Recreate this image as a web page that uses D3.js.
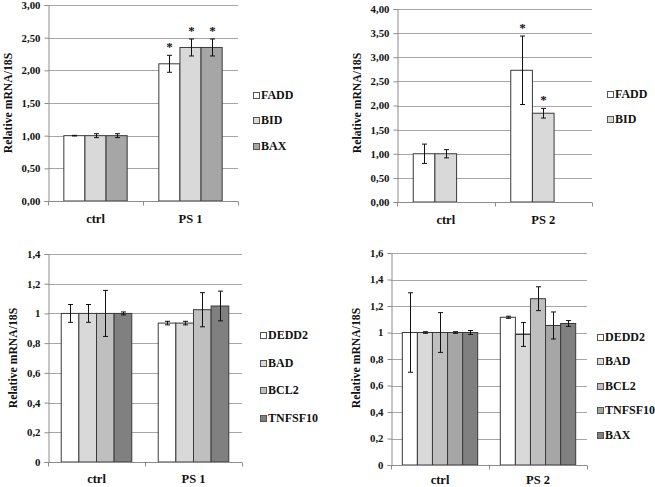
<!DOCTYPE html>
<html>
<head>
<meta charset="utf-8">
<script src="https://cdn.jsdelivr.net/npm/d3@7"></script>
<style>
  html, body { margin: 0; padding: 0; background: #fff; }
  svg { display: block; }
</style>
</head>
<body>
<svg id="chart" width="655" height="487"></svg>
<script>
// ---------- DATA ----------
// Panel 1 (top-left)
const p1Categories = ["ctrl", "PS 1"];
const p1Series = ["FADD", "BID", "BAX"];
const p1Values = [[1.00, 1.00, 1.00], [2.10, 2.35, 2.35]];
const p1Errors = [[0.005, 0.03, 0.03], [0.13, 0.13, 0.13]];
const p1Stars = [[0, 0, 0], [1, 1, 1]];
const p1Ticks = [0, 0.5, 1, 1.5, 2, 2.5, 3];

// Panel 2 (top-right)
const p2Categories = ["ctrl", "PS 2"];
const p2Series = ["FADD", "BID"];
const p2Values = [[1.00, 1.00], [2.73, 1.84]];
const p2Errors = [[0.20, 0.085], [0.71, 0.10]];
const p2Stars = [[0, 0], [1, 1]];
const p2Ticks = [0, 0.5, 1, 1.5, 2, 2.5, 3, 3.5, 4];

// Panel 3 (bottom-left)
const p3Categories = ["ctrl", "PS 1"];
const p3Series = ["DEDD2", "BAD", "BCL2", "TNFSF10"];
const p3Values = [[1.00, 1.00, 1.00, 1.00], [0.935, 0.935, 1.025, 1.05]];
const p3Errors = [[0.06, 0.06, 0.155, 0.01], [0.012, 0.012, 0.115, 0.10]];
const p3Stars = [[0, 0, 0, 0], [0, 0, 0, 0]];
const p3Ticks = [0, 0.2, 0.4, 0.6, 0.8, 1, 1.2, 1.4];

// Panel 4 (bottom-right)
const p4Categories = ["ctrl", "PS 2"];
const p4Series = ["DEDD2", "BAD", "BCL2", "TNFSF10", "BAX"];
const p4Values = [[1.00, 1.00, 1.00, 1.00, 1.00], [1.115, 0.985, 1.255, 1.053, 1.068]];
const p4Errors = [[0.30, 0.006, 0.15, 0.006, 0.015], [0.008, 0.09, 0.09, 0.102, 0.022]];
const p4Stars = [[0, 0, 0, 0, 0], [0, 0, 0, 0, 0]];
const p4Ticks = [0, 0.2, 0.4, 0.6, 0.8, 1, 1.2, 1.4, 1.6];

const yTitle = "Relative mRNA/18S";

// ---------- LAYOUT / STYLE ----------
const FONT = "'Liberation Serif', 'Times New Roman', serif";
const fmt2 = v => d3.format(".2f")(v).replace(".", ",");
const fmtS = v => String(+v.toFixed(1)).replace(".", ",");

const panels = [
  { cats: p1Categories, series: p1Series, values: p1Values, errors: p1Errors, stars: p1Stars, ticks: p1Ticks,
    fmt: fmt2, x0: 48, x1: 238, yTop: 5, yBot: 201, slots: 3,
    colors: ["#ffffff", "#d9d9d9", "#a6a6a6"],
    titleX: 8, titleY: 103, legX: 253, legY: 95, legStep: 25.3, catY: 223 },
  { cats: p2Categories, series: p2Series, values: p2Values, errors: p2Errors, stars: p2Stars, ticks: p2Ticks,
    fmt: fmt2, x0: 397, x1: 592, yTop: 9, yBot: 202, slots: 3,
    colors: ["#ffffff", "#d9d9d9"],
    titleX: 357, titleY: 103, legX: 607, legY: 94, legStep: 25, catY: 224 },
  { cats: p3Categories, series: p3Series, values: p3Values, errors: p3Errors, stars: p3Stars, ticks: p3Ticks,
    fmt: fmtS, x0: 48, x1: 242, yTop: 254, yBot: 462, slots: 4,
    colors: ["#ffffff", "#d9d9d9", "#bfbfbf", "#808080"],
    titleX: 13, titleY: 358, legX: 260, legY: 335, legStep: 27.7, catY: 483 },
  { cats: p4Categories, series: p4Series, values: p4Values, errors: p4Errors, stars: p4Stars, ticks: p4Ticks,
    fmt: fmtS, x0: 391, x1: 587, yTop: 253, yBot: 465, slots: 5,
    colors: ["#ffffff", "#d9d9d9", "#bfbfbf", "#a6a6a6", "#808080"],
    titleX: 356, titleY: 358, legX: 597, legY: 336.5, legStep: 24.6, catY: 484 }
];

const svg = d3.select("#chart");
const gridColor = "#a6a6a6";
const axisColor = "#8c8c8c";
const barStroke = "#3a3a3a";

panels.forEach(p => {
  const g = svg.append("g");
  const yMax = d3.max(p.ticks);
  const y = d3.scaleLinear().domain([0, yMax]).range([p.yBot, p.yTop]);
  const x = d3.scaleBand().domain(p.cats).range([p.x0, p.x1]).padding(0);
  const slotNames = d3.range(p.slots).map(i => "s" + i);
  const xs = d3.scaleBand().domain(slotNames).range([0, x.bandwidth()])
               .paddingInner(0).paddingOuter(0.75);

  // gridlines
  g.append("g").selectAll("line").data(p.ticks.filter(t => t > 0)).join("line")
    .attr("x1", p.x0).attr("x2", p.x1)
    .attr("y1", d => Math.round(y(d)) + 0.5).attr("y2", d => Math.round(y(d)) + 0.5)
    .attr("stroke", gridColor).attr("stroke-width", 1);

  // y axis
  const yAxis = d3.axisLeft(y).tickValues(p.ticks).tickFormat(p.fmt).tickSize(4).tickPadding(4);
  const ya = g.append("g").attr("transform", `translate(${Math.round(p.x0) + 0.5},0)`).call(yAxis);
  ya.attr("font-family", null);
  ya.select(".domain").attr("stroke", axisColor);
  ya.selectAll(".tick line").attr("stroke", axisColor);
  ya.selectAll(".tick text").style("font-family", FONT)
    .style("font-size", "10.8px").style("font-weight", "bold").attr("fill", "#111");

  // bars
  p.cats.forEach((c, ci) => {
    p.series.forEach((s, si) => {
      const v = p.values[ci][si];
      const bx = x(c) + xs(slotNames[si]);
      const bw = xs.bandwidth();
      g.append("rect")
        .attr("x", bx).attr("y", y(v))
        .attr("width", bw).attr("height", y(0) - y(v))
        .attr("fill", p.colors[si]).attr("stroke", barStroke).attr("stroke-width", 1);
    });
  });

  // x axis
  const xa = g.append("g").attr("transform", `translate(0,${Math.round(p.yBot) + 0.5})`);
  xa.append("line").attr("x1", p.x0).attr("x2", p.x1).attr("stroke", axisColor);
  const tickXs = [p.x0, ...p.cats.map(c => x(c) + x.bandwidth())];
  xa.selectAll("line.t").data(tickXs).join("line").attr("class", "t")
    .attr("x1", d => Math.round(d) + 0.5).attr("x2", d => Math.round(d) + 0.5)
    .attr("y1", 0).attr("y2", 4).attr("stroke", axisColor);
  g.selectAll("text.cat").data(p.cats).join("text").attr("class", "cat")
    .attr("x", d => x(d) + x.bandwidth() / 2).attr("y", p.catY)
    .attr("text-anchor", "middle")
    .style("font-family", FONT).style("font-size", "12.5px").style("font-weight", "bold")
    .attr("fill", "#111").text(d => d);

  // error bars + stars
  p.cats.forEach((c, ci) => {
    p.series.forEach((s, si) => {
      const v = p.values[ci][si], e = p.errors[ci][si];
      const cx = Math.round(x(c) + xs(slotNames[si]) + xs.bandwidth() / 2) + 0.5;
      const eg = g.append("g").attr("stroke", "#111").attr("stroke-width", 1);
      eg.append("line").attr("x1", cx).attr("x2", cx).attr("y1", y(v + e)).attr("y2", y(v - e));
      eg.append("line").attr("x1", cx - 2.5).attr("x2", cx + 2.5).attr("y1", y(v + e)).attr("y2", y(v + e));
      eg.append("line").attr("x1", cx - 2.5).attr("x2", cx + 2.5).attr("y1", y(v - e)).attr("y2", y(v - e));
      if (p.stars[ci][si]) {
        g.append("text").attr("x", cx).attr("y", y(v + e) - 4)
          .attr("text-anchor", "middle")
          .style("font-family", FONT).style("font-size", "13px").style("font-weight", "bold")
          .attr("fill", "#111").text("*");
      }
    });
  });

  // y title
  g.append("text")
    .attr("transform", `translate(${p.titleX},${p.titleY}) rotate(-90)`)
    .attr("text-anchor", "middle").attr("dominant-baseline", "central")
    .style("font-family", FONT).style("font-size", "11.7px").style("font-weight", "bold")
    .attr("fill", "#111")
    .text(yTitle);

  // legend
  const lg = g.append("g");
  p.series.forEach((s, si) => {
    const ly = p.legY + si * p.legStep;
    lg.append("rect").attr("x", p.legX + 0.5).attr("y", Math.round(ly - 3) + 0.5)
      .attr("width", 6).attr("height", 6)
      .attr("fill", p.colors[si]).attr("stroke", "#555").attr("stroke-width", 1);
    lg.append("text").attr("x", p.legX + 8).attr("y", ly)
      .attr("dominant-baseline", "central")
      .style("font-family", FONT).style("font-size", "12px").style("font-weight", "bold")
      .attr("fill", "#111").text(s);
  });
});
</script>
</body>
</html>
